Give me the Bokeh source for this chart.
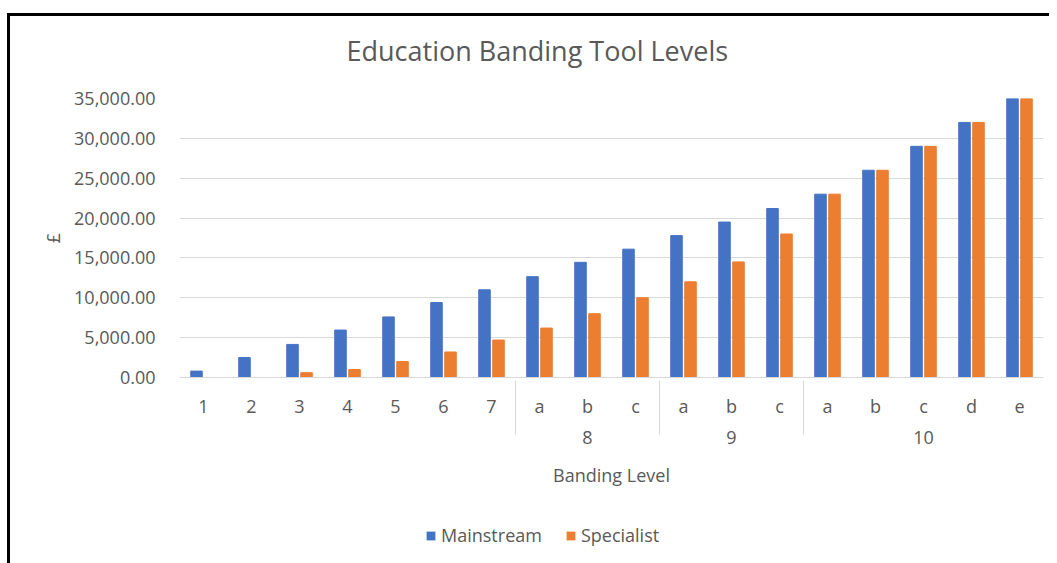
from bokeh.plotting import figure
from bokeh.layouts import column
from bokeh.models import (FactorRange, ColumnDataSource, Legend, LegendItem,
                          NumeralTickFormatter, FixedTicker, InlineStyleSheet)
from bokeh.transform import dodge
from bokeh.embed import file_html
from bokeh.resources import INLINE

# ---- data ----
groups = ["", "", "", "", "", "", "", "8", "8", "8", "9", "9", "9",
          "10", "10", "10", "10", "10"]
levels = ["1", "2", "3", "4", "5", "6", "7", "a", "b", "c", "a", "b", "c",
          "a", "b", "c", "d", "e"]
mainstream = [800, 2500, 4150, 5950, 7600, 9400, 11000, 12650, 14450, 16100,
              17800, 19500, 21200, 23000, 26000, 29000, 32000, 35000]
specialist = [0, 0, 600, 1000, 2000, 3200, 4700, 6200, 8000, 10000,
              12000, 14500, 18000, 23000, 26000, 29000, 32000, 35000]
y_ticks = [0, 5000, 10000, 15000, 20000, 25000, 30000, 35000]
series_names = ["Mainstream", "Specialist"]
colors = ["#4472C4", "#ED7D31"]

FONT = "Open Sans"
GREY = "#595959"
LIGHT = "#d9d9d9"
FS = "18px"

factors = list(zip(groups, levels))
src = ColumnDataSource(dict(x=factors, m=mainstream, s=specialist))

xr = FactorRange(*factors, factor_padding=0, group_padding=0, range_padding=0)
p = figure(x_range=xr, y_range=(0, 35000), width=1049, height=500,
           output_backend="svg", toolbar_location=None,
           title="Education Banding Tool Levels",
           min_border_left=179, min_border_right=6, min_border_top=98,
           min_border_bottom=123)

r1 = p.vbar(x=dodge("x", -0.146, range=xr), top="m", width=0.24, source=src,
            fill_color=colors[0], line_color=colors[0])
r2 = p.vbar(x=dodge("x", 0.146, range=xr), top="s", width=0.24, source=src,
            fill_color=colors[1], line_color=colors[1])

# title
p.title.align = "left"
p.title.offset = 167
p.title.standoff = 59
p.title.text_font = FONT
p.title.text_font_size = "27px"
p.title.text_font_style = "normal"
p.title.text_color = GREY

p.outline_line_color = None
p.xgrid.grid_line_color = None
p.ygrid.grid_line_color = LIGHT
p.ygrid.grid_line_width = 1

# y axis
ya = p.yaxis[0]
ya.ticker = FixedTicker(ticks=y_ticks)
ya.formatter = NumeralTickFormatter(format="0,0.00")
ya.axis_line_color = None
ya.major_tick_line_color = None
ya.minor_tick_line_color = None
ya.major_label_standoff = 18
ya.major_label_text_font = FONT
ya.major_label_text_font_size = FS
ya.major_label_text_color = GREY
ya.axis_label = "£"
ya.axis_label_text_font = FONT
ya.axis_label_text_font_size = FS
ya.axis_label_text_font_style = "normal"
ya.axis_label_text_color = GREY
ya.axis_label_standoff = 6

# x axis
xa = p.xaxis[0]
xa.axis_line_color = LIGHT
xa.axis_line_width = 1
xa.major_tick_line_color = None
xa.minor_tick_line_color = None
xa.major_label_standoff = 10
xa.major_label_text_font = FONT
xa.major_label_text_font_size = FS
xa.major_label_text_color = GREY
xa.group_text_font = FONT
xa.group_text_font_size = FS
xa.group_text_font_style = "normal"
xa.group_text_color = GREY
xa.separator_line_color = LIGHT
xa.separator_line_width = 1
xa.axis_label = "Banding Level"
xa.axis_label_text_font = FONT
xa.axis_label_text_font_size = FS
xa.axis_label_text_font_style = "normal"
xa.axis_label_text_color = GREY
xa.axis_label_standoff = 16

# ---- legend strip below the chart (proxy renderers of zero height) ----
p2 = figure(x_range=xr, y_range=(0, 1), width=1049, height=55,
            output_backend="svg", toolbar_location=None,
            min_border=0, min_border_left=0, min_border_right=0,
            min_border_top=0, min_border_bottom=0)
p2.axis.visible = False
p2.grid.grid_line_color = None
p2.outline_line_color = None
proxy = ColumnDataSource(dict(x=factors[:1], top=[0]))
l1 = p2.vbar(x="x", top="top", bottom=0, width=0.24, source=proxy,
             fill_color=colors[0], line_color=None)
l2 = p2.vbar(x="x", top="top", bottom=0, width=0.24, source=proxy,
             fill_color=colors[1], line_color=None)
legend = Legend(items=[LegendItem(label=series_names[0], renderers=[l1]),
                       LegendItem(label=series_names[1], renderers=[l2])],
                orientation="horizontal", location=(246, 8),
                border_line_color=None, background_fill_alpha=0,
                label_text_font=FONT, label_text_font_size=FS,
                label_text_color=GREY, glyph_width=11, glyph_height=11,
                label_height=20, spacing=23, label_standoff=5,
                padding=0, margin=0)
p2.add_layout(legend)

border_css = InlineStyleSheet(css=""":host::before {
  content: ""; position: absolute; left: 7px; top: 13px; right: 0; bottom: -8px;
  border-left: 3px solid #000; border-top: 3px solid #000;
  pointer-events: none; z-index: 100;
}""")
layout = column(p, p2, spacing=0, stylesheets=[border_css])

open("out.html", "w").write(file_html(layout, INLINE))
